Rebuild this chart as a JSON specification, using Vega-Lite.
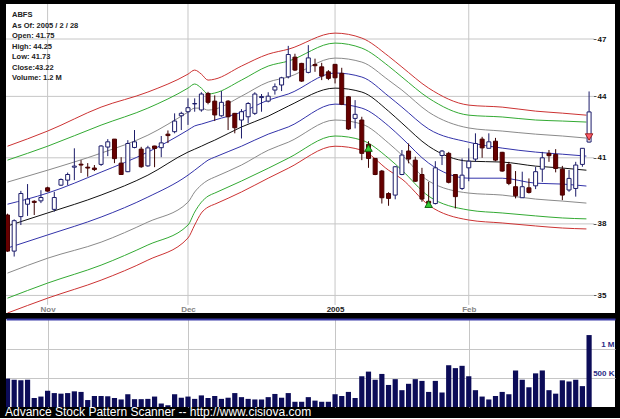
{
"$schema": "https://vega.github.io/schema/vega-lite/v6.json",
"background": "#000000",
"padding": {"left": 5, "top": 4, "right": 6, "bottom": 0},
"spacing": 6,
"config": {"view": {"fill": "#ffffff", "stroke": null}, "font": "Liberation Sans", "scale": {"continuousPadding": 0}},
"title": {"text": "Advance Stock Pattern Scanner -- http://www.cisiova.com", "orient": "bottom", "anchor": "start", "color": "#ffffff", "fontSize": 12, "fontWeight": "normal", "offset": 0, "dx": -1, "font": "Liberation Sans"},
"datasets": {
"candles": [
{"j":0,"o":38.39,"h":38.45,"l":36.8,"c":36.83,"v":490000},
{"j":1,"o":36.83,"h":38.2,"l":36.6,"c":38.14,"v":470000},
{"j":2,"o":38.32,"h":39.47,"l":37.95,"c":39.35,"v":460000},
{"j":3,"o":38.87,"h":39.78,"l":38.35,"c":39.1,"v":470000},
{"j":4,"o":39.0,"h":39.05,"l":38.39,"c":38.95,"v":155000},
{"j":5,"o":39.02,"h":39.5,"l":38.92,"c":39.17,"v":180000},
{"j":6,"o":39.61,"h":39.66,"l":39.43,"c":39.46,"v":280000},
{"j":7,"o":38.64,"h":39.43,"l":38.54,"c":39.17,"v":240000},
{"j":8,"o":39.73,"h":40.04,"l":39.69,"c":39.99,"v":230000},
{"j":9,"o":39.96,"h":40.31,"l":39.73,"c":40.22,"v":240000},
{"j":10,"o":40.56,"h":41.45,"l":39.96,"c":40.61,"v":270000},
{"j":11,"o":40.7,"h":40.89,"l":40.29,"c":40.66,"v":260000},
{"j":12,"o":40.56,"h":40.75,"l":40.12,"c":40.52,"v":120000},
{"j":13,"o":40.52,"h":40.66,"l":40.38,"c":40.45,"v":190000},
{"j":14,"o":40.69,"h":41.6,"l":40.62,"c":41.56,"v":190000},
{"j":15,"o":41.51,"h":41.89,"l":41.08,"c":41.76,"v":185000},
{"j":16,"o":41.89,"h":41.89,"l":40.75,"c":40.96,"v":155000},
{"j":17,"o":40.75,"h":41.03,"l":40.21,"c":40.22,"v":130000},
{"j":18,"o":40.35,"h":41.84,"l":40.33,"c":41.68,"v":220000},
{"j":19,"o":41.49,"h":42.33,"l":41.45,"c":41.76,"v":135000},
{"j":20,"o":41.41,"h":41.52,"l":40.53,"c":40.58,"v":135000},
{"j":21,"o":40.62,"h":41.57,"l":40.58,"c":41.47,"v":140000},
{"j":22,"o":41.56,"h":41.57,"l":40.56,"c":41.44,"v":180000},
{"j":23,"o":41.48,"h":42.04,"l":41.03,"c":41.71,"v":60000},
{"j":24,"o":42.13,"h":42.31,"l":41.7,"c":42.06,"v":30000},
{"j":25,"o":42.25,"h":43.15,"l":42.17,"c":42.77,"v":220000},
{"j":26,"o":43.03,"h":43.23,"l":42.33,"c":43.15,"v":160000},
{"j":27,"o":43.23,"h":43.9,"l":42.58,"c":43.43,"v":180000},
{"j":28,"o":43.62,"h":43.9,"l":43.23,"c":43.64,"v":140000},
{"j":29,"o":43.32,"h":44.21,"l":43.23,"c":44.12,"v":200000},
{"j":30,"o":44.15,"h":44.23,"l":43.6,"c":43.7,"v":155000},
{"j":31,"o":43.76,"h":44.05,"l":42.77,"c":43.07,"v":190000},
{"j":32,"o":43.03,"h":44.27,"l":42.98,"c":43.7,"v":140000},
{"j":33,"o":43.76,"h":43.81,"l":42.33,"c":42.98,"v":160000},
{"j":34,"o":43.15,"h":43.17,"l":42.17,"c":42.44,"v":240000},
{"j":35,"o":42.82,"h":43.36,"l":41.92,"c":43.23,"v":170000},
{"j":36,"o":42.98,"h":43.71,"l":42.66,"c":43.64,"v":140000},
{"j":37,"o":43.15,"h":44.21,"l":43.07,"c":44.12,"v":130000},
{"j":38,"o":43.94,"h":44.12,"l":43.23,"c":43.99,"v":130000},
{"j":39,"o":43.76,"h":44.21,"l":43.7,"c":44.01,"v":170000},
{"j":40,"o":44.32,"h":44.66,"l":44.09,"c":44.49,"v":225000},
{"j":41,"o":44.58,"h":45.0,"l":44.27,"c":44.95,"v":160000},
{"j":42,"o":45.0,"h":46.63,"l":44.92,"c":46.17,"v":240000},
{"j":43,"o":46.03,"h":46.21,"l":45.3,"c":45.35,"v":90000},
{"j":44,"o":45.7,"h":45.73,"l":44.74,"c":44.78,"v":90000},
{"j":45,"o":45.23,"h":46.67,"l":45.18,"c":45.99,"v":170000},
{"j":46,"o":45.64,"h":45.95,"l":45.26,"c":45.58,"v":110000},
{"j":47,"o":45.52,"h":45.73,"l":44.83,"c":45.04,"v":90000},
{"j":48,"o":45.26,"h":45.35,"l":44.83,"c":44.92,"v":90000},
{"j":49,"o":45.65,"h":45.66,"l":44.66,"c":44.95,"v":220000},
{"j":50,"o":45.18,"h":45.47,"l":43.56,"c":43.6,"v":190000},
{"j":51,"o":43.98,"h":44.01,"l":42.33,"c":42.38,"v":260000},
{"j":52,"o":42.9,"h":43.81,"l":42.41,"c":43.1,"v":155000},
{"j":53,"o":42.82,"h":42.98,"l":40.89,"c":41.21,"v":530000},
{"j":54,"o":41.64,"h":41.79,"l":40.53,"c":40.97,"v":610000},
{"j":55,"o":40.97,"h":40.98,"l":40.19,"c":40.22,"v":470000},
{"j":56,"o":40.38,"h":40.43,"l":38.9,"c":39.16,"v":570000},
{"j":57,"o":39.35,"h":39.41,"l":38.8,"c":39.13,"v":380000},
{"j":58,"o":39.28,"h":40.61,"l":39.09,"c":40.58,"v":480000},
{"j":59,"o":40.22,"h":41.37,"l":40.19,"c":41.13,"v":290000},
{"j":60,"o":41.32,"h":41.68,"l":40.74,"c":40.94,"v":400000},
{"j":61,"o":40.89,"h":41.05,"l":39.88,"c":39.91,"v":480000},
{"j":62,"o":40.22,"h":40.53,"l":38.98,"c":39.1,"v":450000},
{"j":63,"o":39.0,"h":39.88,"l":38.79,"c":38.92,"v":260000},
{"j":64,"o":38.9,"h":40.84,"l":38.86,"c":40.53,"v":450000},
{"j":65,"o":41.11,"h":41.37,"l":40.66,"c":41.32,"v":250000},
{"j":66,"o":41.21,"h":41.28,"l":39.81,"c":39.86,"v":720000},
{"j":67,"o":40.22,"h":40.24,"l":38.68,"c":39.21,"v":670000},
{"j":68,"o":39.58,"h":40.97,"l":39.51,"c":40.19,"v":710000},
{"j":69,"o":40.53,"h":41.45,"l":39.91,"c":40.84,"v":530000},
{"j":70,"o":40.94,"h":42.17,"l":40.81,"c":41.68,"v":290000},
{"j":71,"o":41.89,"h":42.0,"l":41.0,"c":41.47,"v":180000},
{"j":72,"o":41.45,"h":42.17,"l":41.45,"c":41.76,"v":130000},
{"j":73,"o":41.79,"h":41.95,"l":40.84,"c":40.89,"v":190000},
{"j":74,"o":41.26,"h":41.28,"l":40.35,"c":40.38,"v":260000},
{"j":75,"o":40.69,"h":40.81,"l":39.73,"c":39.81,"v":220000},
{"j":76,"o":39.66,"h":40.38,"l":39.13,"c":39.25,"v":630000},
{"j":77,"o":39.16,"h":40.35,"l":39.16,"c":39.66,"v":470000},
{"j":78,"o":39.61,"h":40.04,"l":39.35,"c":39.4,"v":340000},
{"j":79,"o":39.7,"h":40.58,"l":39.55,"c":40.35,"v":580000},
{"j":80,"o":40.47,"h":41.28,"l":39.88,"c":41.0,"v":630000},
{"j":81,"o":41.21,"h":41.37,"l":40.81,"c":41.1,"v":290000},
{"j":82,"o":41.16,"h":41.41,"l":40.32,"c":40.5,"v":230000},
{"j":83,"o":40.47,"h":40.62,"l":39.05,"c":39.28,"v":460000},
{"j":84,"o":39.51,"h":40.43,"l":39.43,"c":40.04,"v":440000},
{"j":85,"o":39.58,"h":40.81,"l":39.21,"c":40.66,"v":470000},
{"j":86,"o":40.69,"h":41.45,"l":40.58,"c":41.45,"v":360000},
{"j":87,"o":41.75,"h":44.25,"l":41.73,"c":43.22,"v":1240000}
],
"bands": [
{"j":0,"ru":41.55,"gu":40.89,"yu":39.87,"bu":38.87,"k":37.91,"bl":36.96,"yl":35.91,"gl":34.89,"rl":34.3},
{"j":6,"ru":42.28,"gu":41.55,"yu":40.42,"bu":39.37,"k":38.48,"bl":37.52,"yl":36.53,"gl":35.5,"rl":34.89},
{"j":14,"ru":43.46,"gu":42.57,"yu":41.22,"bu":40.33,"k":39.28,"bl":38.3,"yl":37.21,"gl":36.24,"rl":35.62},
{"j":21,"ru":44.22,"gu":43.41,"yu":42.08,"bu":41.27,"k":40.19,"bl":39.19,"yl":38.08,"gl":37.09,"rl":36.45},
{"j":27,"ru":45.14,"gu":44.42,"yu":43.21,"bu":42.33,"k":41.27,"bl":40.19,"yl":38.96,"gl":37.95,"rl":37.39},
{"j":28,"ru":45.35,"gu":44.63,"yu":43.41,"bu":42.53,"k":41.41,"bl":40.42,"yl":39.42,"gl":38.52,"rl":37.95},
{"j":29,"ru":45.14,"gu":44.42,"yu":43.41,"bu":42.62,"k":41.55,"bl":40.66,"yl":39.74,"gl":38.96,"rl":38.48},
{"j":30,"ru":44.83,"gu":44.12,"yu":43.31,"bu":42.72,"k":41.7,"bl":40.89,"yl":39.96,"gl":39.23,"rl":38.74},
{"j":31,"ru":44.88,"gu":44.17,"yu":43.36,"bu":42.82,"k":41.84,"bl":41.03,"yl":40.1,"gl":39.37,"rl":38.87},
{"j":35,"ru":45.56,"gu":44.83,"yu":44.01,"bu":43.21,"k":42.48,"bl":41.55,"yl":40.66,"gl":39.92,"rl":39.42},
{"j":39,"ru":46.19,"gu":45.56,"yu":44.73,"bu":43.81,"k":43.01,"bl":42.13,"yl":41.36,"gl":40.51,"rl":40.05},
{"j":42,"ru":46.45,"gu":45.82,"yu":44.99,"bu":44.12,"k":43.51,"bl":42.48,"yl":41.74,"gl":40.98,"rl":40.51},
{"j":49,"ru":47.32,"gu":46.78,"yu":45.98,"bu":45.2,"k":44.42,"bl":43.61,"yl":42.82,"gl":42.04,"rl":41.55},
{"j":53,"ru":47.05,"gu":46.51,"yu":45.77,"bu":44.99,"k":44.22,"bl":43.41,"yl":42.62,"gl":41.84,"rl":41.36},
{"j":57,"ru":46.08,"gu":45.56,"yu":44.83,"bu":44.01,"k":43.26,"bl":42.53,"yl":41.7,"gl":40.98,"rl":40.42},
{"j":59,"ru":45.51,"gu":44.99,"yu":44.32,"bu":43.46,"k":42.67,"bl":41.94,"yl":41.13,"gl":40.42,"rl":40.01},
{"j":63,"ru":44.42,"gu":43.91,"yu":43.21,"bu":42.38,"k":41.55,"bl":40.75,"yl":39.92,"gl":39.23,"rl":38.83},
{"j":69,"ru":43.56,"gu":43.06,"yu":42.43,"bu":41.74,"k":40.84,"bl":40.05,"yl":39.37,"gl":38.61,"rl":38.17},
{"j":74,"ru":43.46,"gu":42.97,"yu":42.28,"bu":41.46,"k":40.8,"bl":40.05,"yl":39.28,"gl":38.48,"rl":38.04},
{"j":79,"ru":43.26,"gu":42.82,"yu":42.13,"bu":41.27,"k":40.61,"bl":39.82,"yl":39.1,"gl":38.35,"rl":37.91},
{"j":83,"ru":43.16,"gu":42.77,"yu":42.04,"bu":41.17,"k":40.52,"bl":39.78,"yl":39.01,"gl":38.26,"rl":37.82},
{"j":86.6,"ru":43.06,"gu":42.72,"yu":41.94,"bu":41.08,"k":40.42,"bl":39.69,"yl":38.92,"gl":38.22,"rl":37.78}
],
"levels": [{"p":35},{"p":38},{"p":41},{"p":44},{"p":47}],
"months": [{"j":6,"m":"Nov"},{"j":27,"m":"Dec"},{"j":49,"m":"2005"},{"j":69,"m":"Feb"}],
"signals": [{"j":54,"p":41.46,"t":"up"},{"j":63,"p":38.87,"t":"up"},{"j":87,"p":41.99,"t":"down"}],
"info": [{"s":"ABFS\nAs Of: 2005 / 2 / 28\nOpen: 41.75\nHigh: 44.25\nLow: 41.73\nClose:43.22\nVolume: 1.2 M"}]
},
"vconcat": [
{
"width": 609,
"height": 309,
"layer": [
{"data": {"name": "levels"}, "mark": {"type": "rule", "color": "#c6c6c6", "strokeWidth": 1, "clip": true},
"encoding": {
"x": {"datum": -0.224, "type": "quantitative", "scale": {"domain": [-0.224, 90.876], "nice": false, "zero": false, "padding": 0},
"axis": {"values": [6, 27, 49, 69], "labelExpr": "datum.value == 6 ? 'Nov' : datum.value == 27 ? 'Dec' : datum.value == 49 ? '2005' : 'Feb'", "grid": false, "ticks": false, "tickSize": 0, "domain": false, "offset": -8, "labelPadding": 0, "labelFontSize": 8, "labelFontWeight": "bold", "labelFont": "Liberation Sans", "labelColor": {"condition": {"test": "datum.value == 49", "value": "#222222"}, "value": "#858585"}, "title": null}},
"x2": {"datum": 87.75},
"y": {"field": "p", "type": "quantitative", "scale": {"type": "log", "domain": [34.3, 48.93], "nice": false, "zero": false, "padding": 0},
"axis": {"orient": "right", "values": [35, 38, 41, 44, 47], "format": "d", "grid": false, "domain": false, "ticks": true, "tickSize": 3, "tickColor": "#555555", "offset": -22, "labelPadding": 1, "labelFontSize": 8, "labelFontWeight": "bold", "labelFont": "Liberation Sans", "labelColor": "#111111", "title": null}}}},
{"data": {"name": "months"}, "mark": {"type": "rule", "color": "#c6c6c6", "strokeWidth": 1, "clip": true},
"encoding": {
"x": {"field": "j", "type": "quantitative", "scale": {"domain": [-0.224, 90.876], "nice": false, "zero": false, "padding": 0}},
"y": {"datum": 48.93, "type": "quantitative", "scale": {"type": "log", "domain": [34.3, 48.93], "nice": false, "zero": false, "padding": 0}}, "y2": {"datum": 34.62}}},
{"data": {"name": "bands"}, "transform": [{"fold": ["ru", "gu", "yu", "bu", "k", "bl", "yl", "gl", "rl"], "as": ["band", "v"]}],
"mark": {"type": "line", "strokeWidth": 1, "clip": true, "interpolate": "monotone"},
"encoding": {
"x": {"field": "j", "type": "quantitative", "scale": {"domain": [-0.224, 90.876], "nice": false, "zero": false, "padding": 0}},
"y": {"field": "v", "type": "quantitative", "scale": {"type": "log", "domain": [34.3, 48.93], "nice": false, "zero": false, "padding": 0}},
"color": {"field": "band", "type": "nominal", "legend": null, "scale": {"domain": ["ru", "gu", "yu", "bu", "k", "bl", "yl", "gl", "rl"], "range": ["#cc3333", "#33aa33", "#8a8a8a", "#3333aa", "#111111", "#3333aa", "#8a8a8a", "#33aa33", "#cc3333"]}}}},
{"data": {"name": "candles"}, "mark": {"type": "rule", "strokeWidth": 1, "clip": true},
"encoding": {
"x": {"field": "j", "type": "quantitative", "scale": {"domain": [-0.224, 90.876], "nice": false, "zero": false, "padding": 0}},
"y": {"field": "l", "type": "quantitative", "scale": {"type": "log", "domain": [34.3, 48.93], "nice": false, "zero": false, "padding": 0}}, "y2": {"field": "h"},
"color": {"condition": {"test": "datum.c >= datum.o", "value": "#1c1c6a"}, "value": "#3a0000"}}},
{"data": {"name": "candles"}, "mark": {"type": "bar", "size": 4, "strokeWidth": 1, "clip": true},
"encoding": {
"x": {"field": "j", "type": "quantitative", "scale": {"domain": [-0.224, 90.876], "nice": false, "zero": false, "padding": 0}},
"y": {"field": "o", "type": "quantitative", "scale": {"type": "log", "domain": [34.3, 48.93], "nice": false, "zero": false, "padding": 0}}, "y2": {"field": "c"},
"fill": {"condition": {"test": "datum.c >= datum.o", "value": "#ffffff"}, "value": "#660000"},
"stroke": {"condition": {"test": "datum.c >= datum.o", "value": "#1c1c6a"}, "value": "#4a0000"}}},
{"data": {"name": "signals"}, "mark": {"type": "point", "filled": true, "size": 56, "strokeWidth": 1, "opacity": 1},
"encoding": {
"x": {"field": "j", "type": "quantitative", "scale": {"domain": [-0.224, 90.876], "nice": false, "zero": false, "padding": 0}},
"y": {"field": "p", "type": "quantitative", "scale": {"type": "log", "domain": [34.3, 48.93], "nice": false, "zero": false, "padding": 0}},
"shape": {"condition": {"test": "datum.t == 'up'", "value": "triangle-up"}, "value": "triangle-down"},
"fill": {"condition": {"test": "datum.t == 'up'", "value": "#33cc33"}, "value": "#ff5a6a"},
"stroke": {"condition": {"test": "datum.t == 'up'", "value": "#116611"}, "value": "#992222"}}},
{"data": {"name": "info"}, "mark": {"type": "text", "align": "left", "baseline": "top", "lineBreak": "\n", "lineHeight": 10.5, "fontSize": 7.5, "fontWeight": "bold", "font": "Liberation Sans", "color": "#222222"},
"encoding": {
"x": {"datum": 0.67, "type": "quantitative", "scale": {"domain": [-0.224, 90.876], "nice": false, "zero": false, "padding": 0}},
"y": {"datum": 48.52, "type": "quantitative", "scale": {"type": "log", "domain": [34.3, 48.93], "nice": false, "zero": false, "padding": 0}},
"text": {"field": "s", "type": "nominal"}}}
]
},
{
"width": 609,
"height": 88,
"data": {"name": "candles"},
"mark": {"type": "bar", "size": 5.2, "color": "#0c0c58", "clip": true},
"encoding": {
"x": {"field": "j", "type": "quantitative", "scale": {"domain": [-0.224, 90.876], "nice": false, "zero": false, "padding": 0},
"axis": {"orient": "top", "values": [6, 27, 49, 69], "labels": false, "ticks": false, "grid": true, "gridColor": "#c6c6c6", "domain": true, "domainColor": "#3a3aa8", "domainWidth": 2, "title": null}},
"y": {"field": "v", "type": "quantitative", "scale": {"domain": [0, 1517000], "nice": false, "padding": 0},
"axis": {"orient": "right", "values": [500000, 1000000], "labelExpr": "datum.value == 1000000 ? '1 M' : '500 K'", "grid": true, "gridColor": "#c6c6c6", "ticks": false, "domain": false, "labelAlign": "right", "labelBaseline": "bottom", "labelPadding": -1, "labelFontSize": 8, "labelFontWeight": "bold", "labelFont": "Liberation Sans", "labelColor": "#2b2b85", "title": null}}
}
}
]
}
